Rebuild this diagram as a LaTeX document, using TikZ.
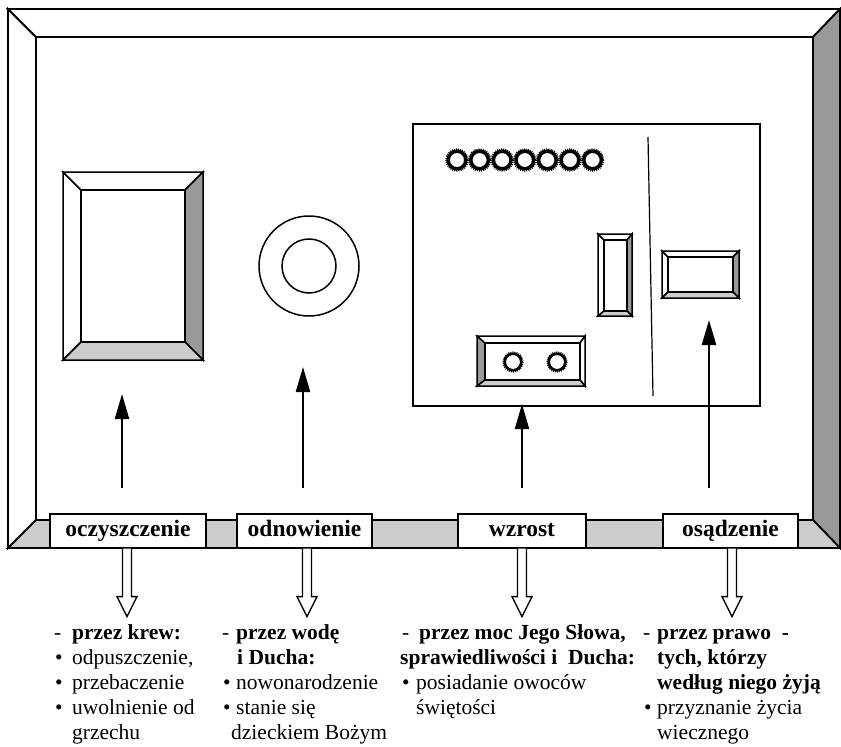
\documentclass[tikz,border=0pt]{standalone}
\usepackage{fontspec}
\setmainfont{Liberation Serif}
\usetikzlibrary{arrows.meta}

\definecolor{bevdark}{HTML}{999999}
\definecolor{bevlight}{HTML}{CCCCCC}

% bevelled rectangle: #1 prefix of the corner coordinates (nw, se, inw, ise), #2-#5 fills left, top, right, bottom
\newcommand{\bevelrect}[5]{%
  \filldraw[fill=#2] (#1nw) -- (#1inw) -- (#1inw |- #1ise) -- (#1nw |- #1se) -- cycle;
  \filldraw[fill=#3] (#1nw) -- (#1se |- #1nw) -- (#1ise |- #1inw) -- (#1inw) -- cycle;
  \filldraw[fill=#4] (#1se |- #1nw) -- (#1se) -- (#1ise) -- (#1ise |- #1inw) -- cycle;
  \filldraw[fill=#5] (#1nw |- #1se) -- (#1inw |- #1ise) -- (#1ise) -- (#1se) -- cycle;
  \filldraw[fill=white] (#1inw) rectangle (#1ise);}

% hollow arrow hanging below a label box: #1 node, #2 shift of its axis
\newcommand{\hollowdown}[2]{%
  \draw[line width=1.3pt, fill=white] ([xshift=#2-4.5pt]#1.south) -- ++(0,48) -- ++(-5.5,0) -- ++(10,20) -- ++(10,-20) -- ++(-5.5,0) -- ++(0,-48);}

\begin{document}
\begin{tikzpicture}[x=1pt,y=-1pt,
  lbl/.style={draw, fill=white, line width=1.2pt, minimum height=34pt, inner sep=0pt, text height=15pt, text depth=5pt, font=\fontsize{23.5}{27}\selectfont\bfseries},
  txt/.style={anchor=base west, inner sep=0pt, font=\fontsize{21.5}{25}\selectfont},
  uparrow/.style={line width=2.2pt, -{Triangle[length=25pt,width=14pt]}},
  gearring/.style={line width=3.5pt},
  gearteeth/.style={line width=1.4pt, dash pattern=on 1pt off 1.1pt},
  smallring/.style={line width=2.6pt},
  smallteeth/.style={line width=1.2pt, dash pattern=on 1pt off 1.1pt}]
\useasboundingbox (0,0) rectangle (841,747);

%Shape: outer frame
\coordinate (mainnw) at (8,9);
\coordinate (mainse) at (840,548);
\coordinate (maininw) at (36,37);
\coordinate (mainise) at (813,520);
\begin{scope}[line width=1.8pt]
\bevelrect{main}{white}{white}{bevdark}{bevlight}
\end{scope}

%Shape: picture frame
\coordinate (picnw) at (63,172);
\coordinate (picse) at (203,360);
\coordinate (picinw) at (81,190);
\coordinate (picise) at (185,342);
\begin{scope}[line width=1.5pt]
\bevelrect{pic}{white}{white}{bevdark}{bevlight}
\end{scope}

%Shape: font (two circles)
\draw[line width=1.5pt] (309,266) circle (50);
\draw[line width=1.5pt] (309,266) circle (27);

%Shape: board
\draw[line width=1.5pt] (413,124) rectangle (760,406);
\draw[line width=1.2pt] (648,137) -- (653,396);

% row of rings
\foreach \k in {0,...,6}{
  \draw[gearring] (457+22.6*\k,160) circle (8.8);
  \draw[gearteeth] (457+22.6*\k,160) circle (11);
}

%Shape: table with two rings
\coordinate (tabnw) at (477,336);
\coordinate (tabse) at (585,386);
\coordinate (tabinw) at (485,343);
\coordinate (tabise) at (580,380);
\begin{scope}[line width=1.5pt]
\bevelrect{tab}{bevdark}{white}{white}{bevlight}
\end{scope}
\foreach \cx in {513,557}{
  \draw[smallring] (\cx,362) circle (8.3);
  \draw[smallteeth] (\cx,362) circle (10);
}

%Shape: tall plate
\coordinate (tallnw) at (598,234);
\coordinate (tallse) at (632,316);
\coordinate (tallinw) at (604,240);
\coordinate (tallise) at (627,311);
\begin{scope}[line width=1.5pt]
\bevelrect{tall}{white}{white}{bevdark}{bevlight}
\end{scope}

%Shape: wide plate
\coordinate (widenw) at (662,251);
\coordinate (widese) at (739,298);
\coordinate (wideinw) at (668,257);
\coordinate (wideise) at (733,292);
\begin{scope}[line width=1.5pt]
\bevelrect{wide}{white}{white}{bevdark}{bevlight}
\end{scope}

% Label boxes
\node[lbl, minimum width=156pt] (oczy) at (128,531) {oczyszczenie};
\node[lbl, minimum width=135pt] (odno) at (304.5,531) {odnowienie};
\node[lbl, minimum width=128pt] (wzro) at (522,531) {wzrost};
\node[lbl, minimum width=135pt] (osad) at (730.5,531) {osądzenie};

% Upward arrows
\coordinate (oczyt) at (122,488);
\coordinate (oczyh) at (122,394);
\coordinate (odnot) at (303,488);
\coordinate (odnoh) at (303,367);
\coordinate (wzrot) at (522,488);
\coordinate (wzroh) at (522,404);
\coordinate (osadt) at (709,488);
\coordinate (osadh) at (709,320);
\draw[uparrow] (oczyt) -- (oczyh);
\draw[uparrow] (odnot) -- (odnoh);
\draw[uparrow] (wzrot) -- (wzroh);
\draw[uparrow] (osadt) -- (osadh);

% Hollow arrows
\hollowdown{oczy}{-1pt}
\hollowdown{odno}{2.5pt}
\hollowdown{wzro}{0pt}
\hollowdown{osad}{1.5pt}

% Text Node
\node[txt] (krew) at (54,639) {\begin{tabular}[t]{@{}l@{}}
\makebox[18pt][l]{-}\textbf{przez krew:}\\
\makebox[18pt][l]{\hspace{1pt}•}odpuszczenie,\\
\makebox[18pt][l]{\hspace{1pt}•}przebaczenie\\
\makebox[18pt][l]{\hspace{1pt}•}uwolnienie od\\
\hspace*{18pt}grzechu
\end{tabular}};
% Text Node
\node[txt] (woda) at (222,639) {\begin{tabular}[t]{@{}l@{}}
\makebox[14pt][l]{-}\textbf{przez wodę}\\
\hspace*{15pt}\textbf{i Ducha:}\\
\makebox[14pt][l]{\hspace{1pt}•}nowonarodzenie\\
\makebox[14pt][l]{\hspace{1pt}•}stanie się\\
\hspace*{9pt}dzieckiem Bożym
\end{tabular}};
% Text Node
\node[txt] (slowo) at (400,639) {\begin{tabular}[t]{@{}l@{}}
\makebox[19pt][l]{\hspace{2pt}-}\textbf{przez moc Jego Słowa,}\\
\textbf{sprawiedliwości i~ Ducha:}\\
\makebox[16pt][l]{\hspace{2pt}•}posiadanie owoców\\
\hspace*{16pt}świętości
\end{tabular}};
% Text Node
\node[txt] (prawo) at (643,639) {\begin{tabular}[t]{@{}l@{}}
\makebox[14pt][l]{-}\textbf{przez prawo~ -}\\
\hspace*{14pt}\textbf{tych, którzy}\\
\hspace*{14pt}\textbf{według niego żyją}\\
\makebox[14pt][l]{\hspace{1pt}•}przyznanie życia\\
\hspace*{14pt}wiecznego
\end{tabular}};

\end{tikzpicture}
\end{document}
